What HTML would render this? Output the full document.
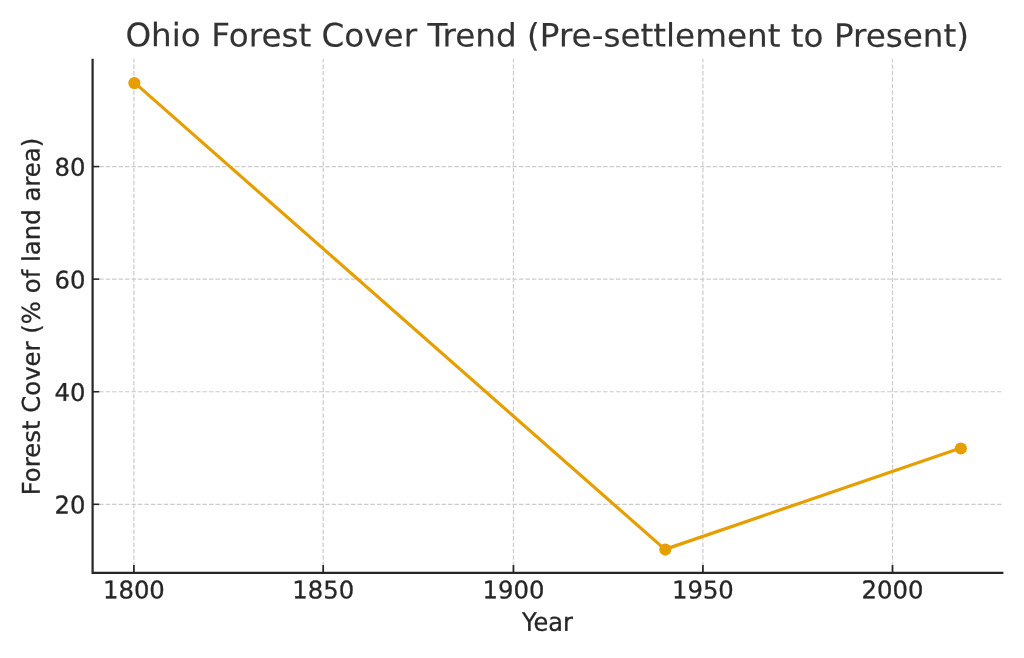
<!DOCTYPE html>
<html lang="en">
<head>
<meta charset="utf-8">
<title>Ohio Forest Cover Trend</title>
<style>
html,body{margin:0;padding:0;background:#fff;}
body{width:1024px;height:658px;overflow:hidden;}
svg{display:block;will-change:transform;}
text{font-family:"DejaVu Sans","Liberation Sans",sans-serif;text-rendering:geometricPrecision;}
</style>
</head>
<body>
<svg width="1024" height="658" viewBox="0 0 1024 658">
<rect x="0" y="0" width="1024" height="658" fill="#ffffff"/>
<g>
<g stroke="#cccccc" stroke-width="1.22" stroke-dasharray="4.509 1.95" fill="none">
<line x1="133.90" y1="572.73" x2="133.90" y2="58.75"/>
<line x1="323.18" y1="572.73" x2="323.18" y2="58.75"/>
<line x1="513.45" y1="572.73" x2="513.45" y2="58.75"/>
<line x1="702.90" y1="572.73" x2="702.90" y2="58.75"/>
<line x1="892.50" y1="572.73" x2="892.50" y2="58.75"/>
<line x1="92.7" y1="504.33" x2="1002.1" y2="504.33"/>
<line x1="92.7" y1="391.74" x2="1002.1" y2="391.74"/>
<line x1="92.7" y1="279.15" x2="1002.1" y2="279.15"/>
<line x1="92.7" y1="166.56" x2="1002.1" y2="166.56"/>
</g>
<polyline points="133.90,82.12 664.92,549.37 960.77,448.04" fill="none" stroke="#E69F00" stroke-width="3.2" stroke-linejoin="round" stroke-linecap="butt"/>
<circle cx="134.34" cy="83.12" r="6.1" fill="#E69F00"/>
<circle cx="665.31" cy="549.55" r="6.1" fill="#E69F00"/>
<circle cx="960.81" cy="448.49" r="6.1" fill="#E69F00"/>
<g stroke="#262626" stroke-width="1.75">
<line x1="133.90" y1="572.73" x2="133.90" y2="565.03"/>
<line x1="323.18" y1="572.73" x2="323.18" y2="565.03"/>
<line x1="513.45" y1="572.73" x2="513.45" y2="565.03"/>
<line x1="702.90" y1="572.73" x2="702.90" y2="565.03"/>
<line x1="892.50" y1="572.73" x2="892.50" y2="565.03"/>
<line x1="92.7" y1="504.33" x2="99.30" y2="504.33" stroke-width="1.55"/>
<line x1="92.7" y1="391.74" x2="99.30" y2="391.74" stroke-width="1.55"/>
<line x1="92.7" y1="279.15" x2="99.30" y2="279.15" stroke-width="1.55"/>
<line x1="92.7" y1="166.56" x2="99.30" y2="166.56" stroke-width="1.55"/>
</g>
<path d="M92.6 58.7 L92.6 572.9 L1003.4 572.9" fill="none" stroke="#262626" stroke-width="2.2" stroke-linejoin="miter" stroke-linecap="butt"/>
<g fill="#262626" stroke="#262626" stroke-width="0.3" font-size="24.3px">
<text transform="translate(133.90 598.40) rotate(0.05) scale(1 1.0)" text-anchor="middle">1800</text>
<text transform="translate(323.18 598.40) rotate(0.05) scale(1 1.0)" text-anchor="middle">1850</text>
<text transform="translate(513.45 598.40) rotate(0.05) scale(1 1.0)" text-anchor="middle">1900</text>
<text transform="translate(702.90 598.40) rotate(0.05) scale(1 1.0)" text-anchor="middle">1950</text>
<text transform="translate(892.50 598.40) rotate(0.05) scale(1 1.0)" text-anchor="middle">2000</text>
<text transform="translate(85.50 513.50) rotate(0.05) scale(1 1.0)" text-anchor="end">20</text>
<text transform="translate(85.50 400.90) rotate(0.05) scale(1 1.0)" text-anchor="end">40</text>
<text transform="translate(85.50 288.50) rotate(0.05) scale(1 1.0)" text-anchor="end">60</text>
<text transform="translate(85.50 175.80) rotate(0.05) scale(1 1.0)" text-anchor="end">80</text>
<text transform="translate(547.40 630.65) rotate(0.05) scale(1 1.05)" text-anchor="middle" font-size="24.05px">Year</text>
</g>
<text transform="translate(39.7 316.55) rotate(-90.03)" text-anchor="middle" font-size="24.39px" fill="#262626" stroke="#262626" stroke-width="0.3">Forest Cover (% of land area)</text>
<text transform="translate(547.2 46.55) rotate(0.03) scale(1 0.987)" text-anchor="middle" font-size="32.615px" fill="#333333" stroke="#333333" stroke-width="0.15">Ohio Forest Cover Trend (Pre-settlement to Present)</text>
</g>
</svg>
</body>
</html>
